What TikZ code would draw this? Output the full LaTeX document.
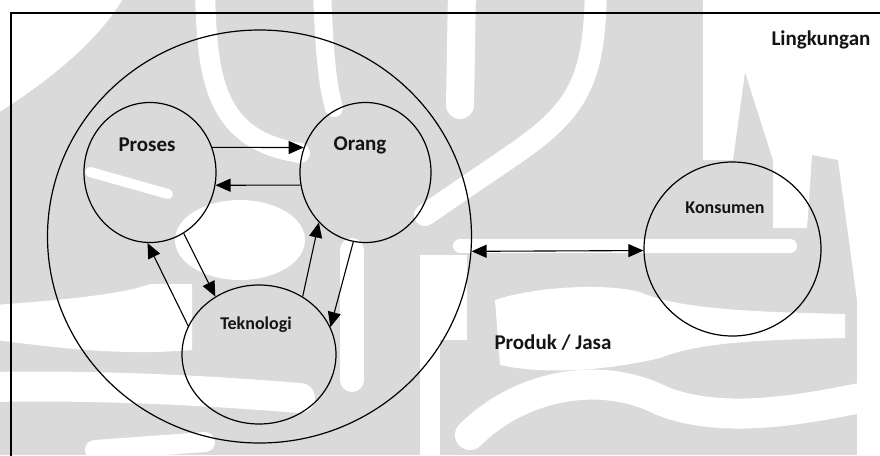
\documentclass[tikz,border=0pt]{standalone}
\usepackage{fontspec}
\setmainfont{Carlito}
\usetikzlibrary{shapes.geometric,arrows.meta}
\definecolor{wm}{HTML}{DADADA}
\begin{document}
\begin{tikzpicture}[x=1pt,y=-1pt,
  ring/.style={draw, ellipse, line width=1.2pt, inner sep=0pt},
  lbl/.style={font=\bfseries\fontsize{21}{25}\selectfont, text=black!92, inner sep=0pt},
  lblsmall/.style={font=\bfseries\fontsize{18}{22}\selectfont, text=black!92, inner sep=0pt},
  tip/.tip={Triangle[length=15pt,width=13pt]},
  link/.style={line width=1.1pt, -tip},
  twoway/.style={line width=1.1pt, tip-tip},
  band/.style={draw=white, line cap=round, line join=round},
]
\useasboundingbox (0,0) rectangle (880,455);
\clip (0,0) rectangle (880,455);

% faint emblem in the background
\begin{scope}
\fill[wm] (0,0) rectangle (880,455);
% upper left field
\fill[white] (-5,-5) -- (125,-5) .. controls (100,40) and (50,80) .. (-5,115) -- cycle;
% arches
\draw[band, line width=20pt] (205,-10) .. controls (207,80) and (215,140) .. (300,153);
\draw[band, line width=18pt] (322,-10) .. controls (324,40) and (326,80) .. (334,108);
\draw[band, line width=28pt] (462,-10) -- (460,105);
\draw[band, line width=22pt] (596,-10) .. controls (594,80) and (580,110) .. (510,157) -- (425,215);
% upper right field with its two blades
\fill[white] (703,-5) -- (885,-5) -- (885,460) -- (857,460) -- (857,300)
  -- (838,160) -- (812,155) -- (807,228) -- (773,228) -- (773,160)
  -- (745,72) -- (733,160) -- (703,160) -- cycle;
% streaks across the middle
\fill[white] (240,240) ellipse [x radius=65, y radius=40];
\draw[band, line width=10pt] (90,172) -- (168,194);
\draw[band, line width=14pt] (460,246) -- (790,246);
\draw[band, line width=24pt] (352,250) -- (352,380);
% lower left waves
\fill[white] (-5,305) .. controls (60,300) and (120,295) .. (150,284) -- (192,284)
  -- (192,350) .. controls (120,356) and (60,348) .. (-5,340) -- cycle;
\draw[band, line width=30pt] (-10,387) .. controls (100,385) and (200,390) .. (300,398);
\draw[band, line width=20pt] (95,450) -- (205,442);
% lower right waves
\fill[white] (420,255) rectangle (467,340);
\draw[band, line width=20pt] (430,340) -- (430,465);
\fill[white] (495,300) .. controls (530,288) and (600,282) .. (640,292)
  .. controls (680,310) and (760,312) .. (845,314) -- (845,338)
  .. controls (760,340) and (700,342) .. (660,358)
  .. controls (600,372) and (540,374) .. (500,365) -- cycle;
\draw[band, line width=30pt] (470,435) .. controls (520,385) and (600,370) .. (660,400)
  .. controls (720,425) and (800,410) .. (860,398);
\end{scope}

% environment frame (runs past the right and bottom edges)
\draw[line width=1.4pt] (11,470) |- (895,13);

% the organisation and its three parts
\node[ring, minimum width=424pt, minimum height=413pt] (sistem) at (259.5,236.5) {};
\node[ring, minimum width=132pt, minimum height=140pt] (proses) at (150,172.5) {};
\node[ring, minimum width=131pt, minimum height=140pt] (orang) at (365.5,172.5) {};
\node[ring, minimum width=154pt, minimum height=139pt] (tekno) at (259,354.5) {};
\node[ring, minimum width=177pt, minimum height=174pt] (konsumen) at (732.5,249) {};

% labels
\node[lbl] (tLingkungan) at (821,40) {Lingkungan};
\node[lbl] (tProses) at (147,145) {Proses};
\node[lbl] (tOrang) at (360,145) {Orang};
\node[lblsmall] (tTekno) at (256,325) {Teknologi};
\node[lblsmall] (tKonsumen) at (725,208) {Konsumen};
\node[lbl] (tProduk) at (553,343) {Produk / Jasa};

% links between the parts
\draw[link] (proses.22) -- (orang.158);
\draw[link] (orang.191) -- (proses.349);
\draw[link] (proses.299) -- (tekno.127);
\draw[link] (tekno.158) -- (proses.268);
\draw[link] (tekno.53) -- (orang.227);
\draw[link] (orang.260) -- (tekno.21);
\draw[twoway] (sistem.356) -- (konsumen.181);
\end{tikzpicture}
\end{document}
